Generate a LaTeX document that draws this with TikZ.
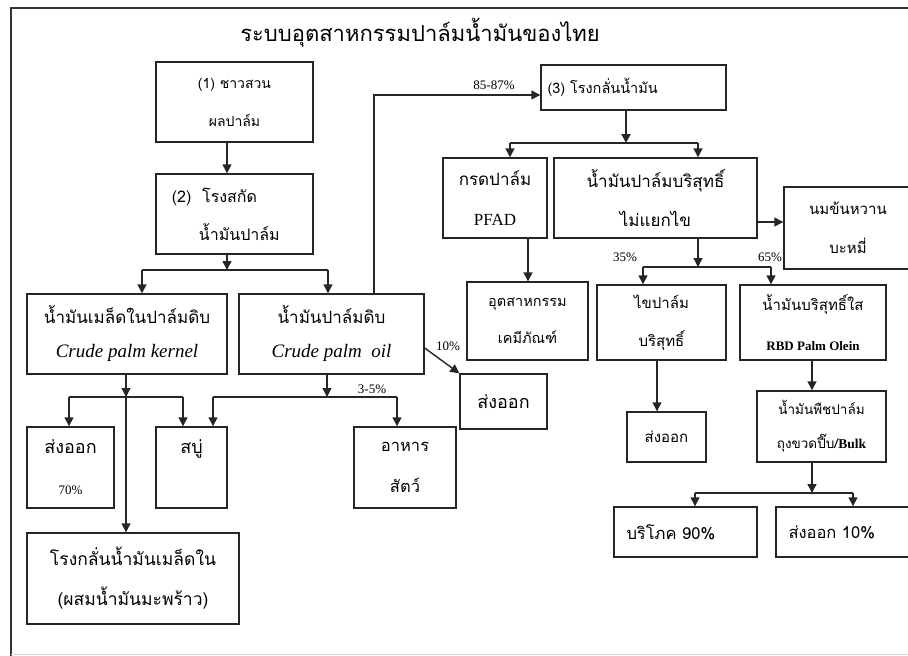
\documentclass[tikz,border=0pt]{standalone}
\usepackage{fontspec}
\setmainfont{Liberation Serif}
\newfontfamily\thaifont[Script=Thai]{Loma}
\usepackage{tikz}
\usetikzlibrary{arrows.meta}
\newcommand{\edgecolor}{black!85}
\newcommand{\thickness}{1.4pt}
\newcommand{\latin}{\rmfamily\itshape\fontsize{19}{19}\selectfont}
\tikzset{
  box/.style={draw=\edgecolor, line width=\thickness, align=center, inner sep=2pt,
    font=\thaifont\fontsize{16.5}{38}\selectfont},
  line/.style={draw=\edgecolor, line width=\thickness},
  arr/.style={draw=\edgecolor, line width=\thickness, -{Triangle[length=9pt,width=9pt]}},
  pct/.style={font=\fontsize{13}{14}\selectfont, inner sep=0pt}
}

\begin{document}
\begin{tikzpicture}[x=1pt, y=-1pt]
\useasboundingbox (0,0) rectangle (908,656);
\clip (0,0) rectangle (908,656);
%frame
\draw[line width=2.5pt, black!80] (908,8) -- (11,8) -- (11,656);
\draw[black!15] (11,654) -- (908,654);
\node[font=\thaifont\fontsize{22}{26}\selectfont] (title) at (420,33) {ระบบอุตสาหกรรมปาล์มน้ำมันของไทย};
%left side
\node[box] (1) at (234.5, 102) [minimum width=157pt, minimum height=80pt, font=\thaifont\fontsize{14}{38}\selectfont] {(1) ชาวสวน\\ผลปาล์ม};
\node[box] (2) at (234.5, 214) [minimum width=157pt, minimum height=80pt, font=\thaifont\fontsize{16}{38}\selectfont] {(2)\ \ โรงสกัด\makebox[2.5em]{}\\\makebox[0.6em]{}น้ำมันปาล์ม};
\node[box] (4) at (127, 334) [minimum width=200pt, minimum height=80pt, font=\thaifont\fontsize{17}{34}\selectfont] {น้ำมันเมล็ดในปาล์มดิบ\\{\latin Crude palm kernel}};
\node[box] (5) at (331.5, 334) [minimum width=185pt, minimum height=80pt, font=\thaifont\fontsize{17}{34}\selectfont] {น้ำมันปาล์มดิบ\\{\latin Crude palm\ \ oil}};
\node[box] (15) at (70.5, 467.5) [minimum width=87pt, minimum height=81pt, font=\thaifont\fontsize{18}{41}\selectfont] {ส่งออก\\{\rmfamily\fontsize{13}{13}\selectfont 70\%}};
\node[box] (16) at (191.5, 467.5) [minimum width=71pt, minimum height=81pt, font=\thaifont\fontsize{18}{41}\selectfont] {สบู่\\\mbox{}};
\node[box] (17) at (405, 467.5) [minimum width=102pt, minimum height=81pt, font=\thaifont\fontsize{16.5}{41}\selectfont] {อาหาร\\สัตว์};
\node[box] (18) at (133, 578.5) [minimum width=212pt, minimum height=91pt, font=\thaifont\fontsize{17.5}{40}\selectfont] {โรงกลั่นน้ำมันเมล็ดใน\\(ผสมน้ำมันมะพร้าว)};
\node[box] (12) at (503.5, 401.5) [minimum width=87pt, minimum height=55pt, font=\thaifont\fontsize{18}{40}\selectfont] {ส่งออก};
%refinery
\node[box] (3) at (633.5, 87.5) [minimum width=185pt, minimum height=45pt, font=\thaifont\fontsize{14.5}{38}\selectfont] {\makebox[172pt][l]{(3) โรงกลั่นน้ำมัน}};
\node[box] (6) at (495, 198) [minimum width=104pt, minimum height=80pt, font=\thaifont\fontsize{17}{40}\selectfont] {กรดปาล์ม\\{\rmfamily PFAD}};
\node[box] (7) at (655.5, 198) [minimum width=203pt, minimum height=80pt, font=\thaifont\fontsize{17}{39}\selectfont] {น้ำมันปาล์มบริสุทธิ์\\ไม่แยกไข};
\node[box] (8) at (848, 228) [minimum width=128pt, minimum height=82pt, font=\thaifont\fontsize{15}{39}\selectfont] {นมข้นหวาน\\บะหมี่};
\node[box] (9) at (527.5, 321) [minimum width=121pt, minimum height=78pt, font=\thaifont\fontsize{14.5}{37}\selectfont] {อุตสาหกรรม\\เคมีภัณฑ์};
\node[box] (10) at (661.5, 322.5) [minimum width=129pt, minimum height=75pt, font=\thaifont\fontsize{15}{38}\selectfont] {ไขปาล์ม\\บริสุทธิ์};
\node[box] (11) at (813, 322.5) [minimum width=146pt, minimum height=75pt, font=\thaifont\fontsize{15}{40}\selectfont] {น้ำมันบริสุทธิ์ใส\\{\rmfamily\bfseries\fontsize{13}{13}\selectfont RBD Palm Olein}};
\node[box] (13) at (666.5, 437) [minimum width=79pt, minimum height=50pt, font=\thaifont\fontsize{15}{30}\selectfont] {ส่งออก};
\node[box] (14) at (821.5, 426.5) [minimum width=129pt, minimum height=71pt, font=\thaifont\fontsize{13.5}{34}\selectfont] {น้ำมันพืชปาล์ม\\ถุงขวดปี๊บ/{\rmfamily\bfseries Bulk}};
\node[box] (19) at (685.5, 532) [minimum width=143pt, minimum height=50pt] {\makebox[118pt][l]{บริโภค 90\%}};
\node[box] (20) at (847.5, 532) [minimum width=143pt, minimum height=50pt] {\makebox[118pt][l]{ส่งออก 10\%}};
%bends
\coordinate (a) at (227, 270);
\coordinate (al) at (142, 270);
\coordinate (ar) at (328, 270);
\coordinate (b) at (374, 95);
\coordinate (c) at (626, 143);
\coordinate (cl) at (510, 143);
\coordinate (cr) at (698, 143);
\coordinate (d) at (770, 222);
\coordinate (e) at (528, 260);
\coordinate (f) at (698, 267);
\coordinate (fl) at (643, 267);
\coordinate (fr) at (771, 267);
\coordinate (g) at (657, 380);
\coordinate (h) at (812, 380);
\coordinate (k) at (812, 493);
\coordinate (kl) at (695, 493);
\coordinate (kr) at (853, 493);
\coordinate (m) at (424, 348);
\coordinate (p) at (126, 397);
\coordinate (pl) at (69, 397);
\coordinate (pr) at (183, 397);
\coordinate (q) at (327, 397);
\coordinate (ql) at (213, 397);
\coordinate (qr) at (397, 397);
%12
\draw[arr] (1.south -| a) -- (2.north -| a);
\draw[arr] (2.south -| a) -- (a);
\draw[line] (al) -- (ar);
\draw[arr] (al) -- (4.north -| al);
\draw[arr] (ar) -- (5.north -| ar);
%53
\draw[arr] (5.north -| b) -- (b) -- (3.west |- b);
\draw[arr, line width=2pt] (3.south -| c) -- (c);
\draw[line] (cl) -- (cr);
\draw[arr] (cl) -- (6.north -| cl);
\draw[arr] (cr) -- (7.north -| cr);
\draw[arr] (7.east |- d) -- (8.west |- d);
\draw[arr] (6.south -| e) -- (9.north -| e);
\draw[arr] (7.south -| f) -- (f);
\draw[line] (fl) -- (fr);
\draw[arr] (fl) -- (10.north -| fl);
\draw[arr] (fr) -- (11.north -| fr);
\draw[arr] (10.south -| g) -- (13.north -| g);
\draw[arr] (11.south -| h) -- (14.north -| h);
\draw[arr] (14.south -| k) -- (k);
\draw[line] (kl) -- (kr);
\draw[arr] (kl) -- (19.north -| kl);
\draw[arr] (kr) -- (20.north -| kr);
%45
\draw[arr] (5.east |- m) -- (12.north west);
\draw[arr] (4.south -| p) -- (p);
\draw[line] (pl) -- (pr);
\draw[arr] (pl) -- (15.north -| pl);
\draw[arr] (pr) -- (16.north -| pr);
\draw[arr] (p) -- (18.north -| p);
\draw[arr] (5.south -| q) -- (q);
\draw[line] (ql) -- (qr);
\draw[arr] (ql) -- (16.north -| ql);
\draw[arr] (qr) -- (17.north -| qr);
%labels
\node[pct] (l1) at (494, 85) {85-87\%};
\node[pct] (l2) at (625, 257) {35\%};
\node[pct] (l3) at (770, 257) {65\%};
\node[pct] (l4) at (448, 346) {10\%};
\node[pct] (l5) at (372, 389) {3-5\%};
\end{tikzpicture}
\end{document}
